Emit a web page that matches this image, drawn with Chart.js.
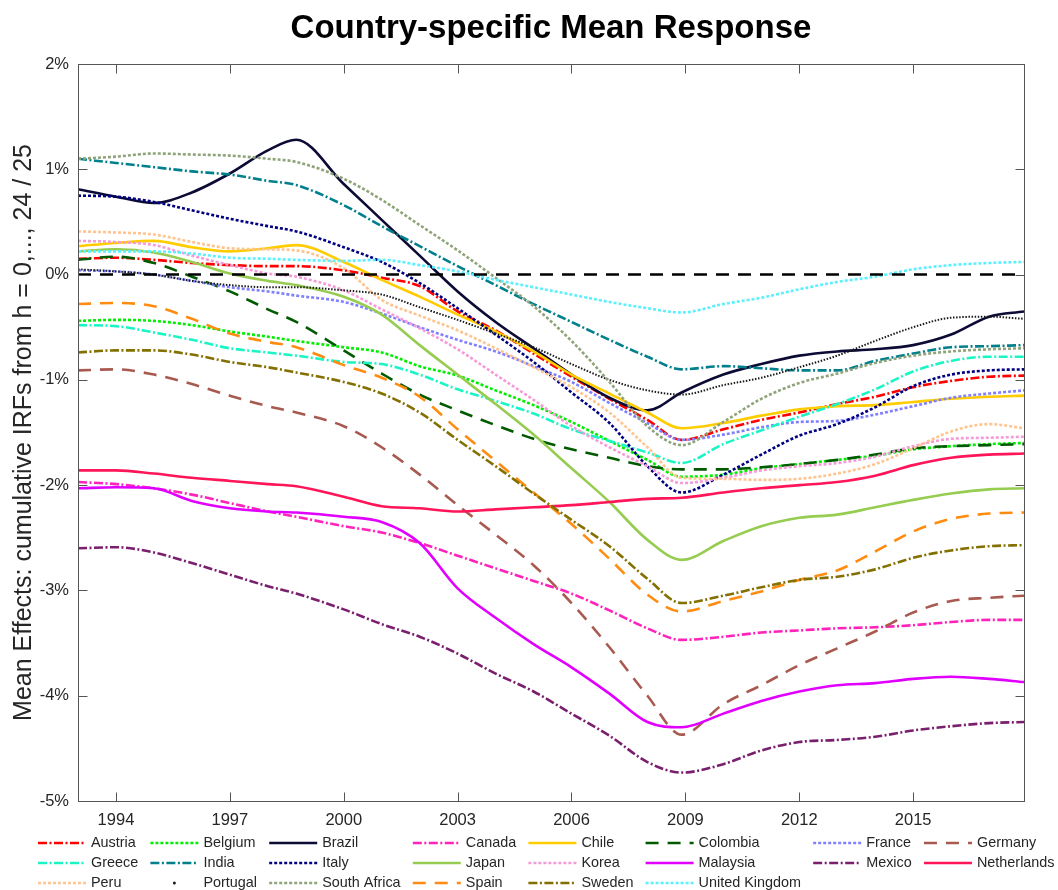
<!DOCTYPE html>
<html>
<head>
<meta charset="utf-8">
<title>Country-specific Mean Response</title>
<script src="https://cdn.jsdelivr.net/npm/chart.js@4.4.1/dist/chart.umd.min.js"></script>
<style>
	html, body { margin: 0; padding: 0; background: #fff; }
	#wrap { width: 1058px; height: 890px; position: relative; }
</style>
</head>
<body>
<div id="wrap"><canvas id="mycanvas"></canvas></div>
<script>
// sample dates (decimal years) shared by every country
var YEARS = [1993, 1994, 1995, 1996, 1997, 1998, 1998.75, 2000, 2001, 2002, 2003, 2004, 2005,
	2006, 2007, 2008, 2008.9, 2010, 2011, 2012, 2013, 2014, 2015, 2016, 2017, 2017.92];
var XTICKS = [1994, 1997, 2000, 2003, 2006, 2009, 2012, 2015];
var YTICKS = [-5, -4, -3, -2, -1, 0, 1, 2];

var COUNTRIES = ["Austria", "Belgium", "Brazil", "Canada", "Chile", "Colombia", "France", "Germany",
	"Greece", "India", "Italy", "Japan", "Korea", "Malaysia", "Mexico", "Netherlands",
	"Peru", "Portugal", "South Africa", "Spain", "Sweden", "United Kingdom"];

// mean cumulative response, in percent
var austria = [0.15, 0.16, 0.14, 0.11, 0.09, 0.08, 0.08, 0.04, -0.03, -0.11, -0.35, -0.53, -0.75, -0.97, -1.18, -1.38, -1.57, -1.47, -1.38, -1.31, -1.23, -1.16, -1.07, -1.01, -0.97, -0.96];
var belgium = [-0.44, -0.43, -0.44, -0.48, -0.54, -0.59, -0.63, -0.69, -0.74, -0.87, -0.96, -1.10, -1.24, -1.40, -1.58, -1.76, -1.92, -1.90, -1.84, -1.80, -1.76, -1.72, -1.66, -1.63, -1.61, -1.60];
var brazil = [0.81, 0.74, 0.68, 0.78, 0.96, 1.18, 1.28, 0.86, 0.52, 0.18, -0.16, -0.45, -0.70, -0.95, -1.17, -1.29, -1.12, -0.95, -0.85, -0.77, -0.73, -0.71, -0.67, -0.57, -0.40, -0.35];
var canada = [-1.97, -1.99, -2.03, -2.09, -2.17, -2.25, -2.30, -2.39, -2.45, -2.55, -2.67, -2.79, -2.91, -3.03, -3.19, -3.36, -3.47, -3.44, -3.40, -3.38, -3.36, -3.35, -3.33, -3.30, -3.28, -3.28];
var chile = [0.27, 0.30, 0.32, 0.26, 0.22, 0.25, 0.28, 0.12, -0.05, -0.21, -0.38, -0.54, -0.73, -0.95, -1.13, -1.31, -1.46, -1.41, -1.34, -1.28, -1.25, -1.24, -1.21, -1.18, -1.16, -1.15];
var colombia = [0.14, 0.17, 0.11, -0.02, -0.16, -0.33, -0.45, -0.72, -0.94, -1.14, -1.29, -1.43, -1.56, -1.66, -1.74, -1.82, -1.85, -1.85, -1.83, -1.80, -1.76, -1.71, -1.65, -1.63, -1.62, -1.61];
var france = [0.04, 0.03, 0.00, -0.06, -0.12, -0.16, -0.20, -0.26, -0.37, -0.50, -0.62, -0.73, -0.87, -1.02, -1.22, -1.41, -1.57, -1.52, -1.45, -1.40, -1.39, -1.33, -1.25, -1.17, -1.13, -1.10];
var germany = [-0.91, -0.90, -0.95, -1.04, -1.15, -1.25, -1.31, -1.44, -1.64, -1.90, -2.19, -2.47, -2.76, -3.12, -3.54, -4.00, -4.37, -4.08, -3.90, -3.71, -3.55, -3.39, -3.21, -3.10, -3.07, -3.05];
var greece = [-0.48, -0.49, -0.55, -0.62, -0.70, -0.74, -0.77, -0.83, -0.85, -0.95, -1.09, -1.20, -1.32, -1.47, -1.58, -1.69, -1.79, -1.61, -1.48, -1.35, -1.23, -1.09, -0.92, -0.82, -0.78, -0.78];
var india = [1.10, 1.06, 1.02, 0.98, 0.95, 0.89, 0.85, 0.66, 0.46, 0.27, 0.08, -0.10, -0.28, -0.45, -0.62, -0.78, -0.90, -0.87, -0.89, -0.91, -0.91, -0.82, -0.75, -0.69, -0.68, -0.67];
var italy = [0.75, 0.74, 0.69, 0.61, 0.53, 0.46, 0.41, 0.26, 0.12, -0.08, -0.32, -0.57, -0.83, -1.12, -1.41, -1.82, -2.07, -1.90, -1.71, -1.53, -1.42, -1.26, -1.06, -0.95, -0.91, -0.90];
var japan = [0.22, 0.24, 0.21, 0.12, 0.01, -0.06, -0.10, -0.21, -0.38, -0.67, -0.95, -1.23, -1.52, -1.84, -2.16, -2.52, -2.71, -2.53, -2.39, -2.31, -2.28, -2.21, -2.14, -2.08, -2.04, -2.03];
var korea = [0.32, 0.31, 0.28, 0.18, 0.09, 0.01, -0.02, -0.15, -0.33, -0.51, -0.71, -0.95, -1.19, -1.44, -1.64, -1.82, -1.98, -1.93, -1.86, -1.82, -1.79, -1.73, -1.63, -1.56, -1.55, -1.54];
var malaysia = [-2.03, -2.02, -2.03, -2.15, -2.22, -2.25, -2.26, -2.30, -2.35, -2.55, -2.98, -3.26, -3.51, -3.73, -3.98, -4.25, -4.30, -4.17, -4.05, -3.96, -3.90, -3.88, -3.84, -3.82, -3.84, -3.87];
var mexico = [-2.60, -2.59, -2.64, -2.74, -2.85, -2.96, -3.03, -3.18, -3.32, -3.44, -3.60, -3.79, -3.96, -4.17, -4.38, -4.63, -4.73, -4.65, -4.52, -4.44, -4.42, -4.39, -4.33, -4.29, -4.26, -4.25];
var netherlands = [-1.86, -1.86, -1.89, -1.93, -1.96, -1.99, -2.01, -2.11, -2.20, -2.22, -2.25, -2.23, -2.21, -2.19, -2.16, -2.13, -2.12, -2.07, -2.03, -2.00, -1.97, -1.91, -1.81, -1.74, -1.71, -1.70];
var peru = [0.41, 0.40, 0.38, 0.31, 0.25, 0.24, 0.23, 0.06, -0.24, -0.39, -0.53, -0.70, -0.88, -1.07, -1.31, -1.64, -1.93, -1.94, -1.95, -1.94, -1.89, -1.80, -1.65, -1.49, -1.42, -1.46];
var portugal = [0.05, 0.03, 0.00, -0.06, -0.10, -0.12, -0.12, -0.15, -0.19, -0.31, -0.43, -0.56, -0.69, -0.85, -1.00, -1.10, -1.14, -1.05, -0.98, -0.88, -0.77, -0.63, -0.50, -0.41, -0.40, -0.42];
var southAfrica = [1.10, 1.12, 1.15, 1.14, 1.13, 1.10, 1.07, 0.91, 0.71, 0.47, 0.23, -0.03, -0.30, -0.63, -1.02, -1.44, -1.62, -1.40, -1.18, -1.03, -0.94, -0.84, -0.77, -0.73, -0.71, -0.70];
var spain = [-0.28, -0.27, -0.30, -0.42, -0.56, -0.64, -0.69, -0.86, -0.98, -1.16, -1.47, -1.77, -2.07, -2.37, -2.70, -3.04, -3.20, -3.10, -3.01, -2.90, -2.81, -2.63, -2.44, -2.32, -2.27, -2.26];
var sweden = [-0.74, -0.72, -0.72, -0.76, -0.83, -0.88, -0.93, -1.02, -1.13, -1.31, -1.57, -1.82, -2.08, -2.33, -2.58, -2.89, -3.12, -3.05, -2.97, -2.90, -2.87, -2.80, -2.69, -2.62, -2.58, -2.57];
var uk = [0.22, 0.22, 0.22, 0.20, 0.16, 0.15, 0.14, 0.13, 0.14, 0.09, 0.03, -0.05, -0.12, -0.19, -0.26, -0.32, -0.36, -0.28, -0.22, -0.14, -0.07, -0.02, 0.05, 0.09, 0.11, 0.12];

var SERIES = [austria, belgium, brazil, canada, chile, colombia, france, germany,
	greece, india, italy, japan, korea, malaysia, mexico, netherlands,
	peru, portugal, southAfrica, spain, sweden, uk];

var COLORS = ["#ff0000", "#00ee00", "#0b0b35", "#ff22bb", "#ffcc00", "#005a00", "#8080ff", "#a85a50",
	"#1af5c5", "#00808c", "#000080", "#96cc50", "#f59bd8", "#e100ff", "#7a1e6e", "#ff1558",
	"#ffc48f", "#1a1a1a", "#8fa47a", "#ff8c10", "#847000", "#5cf0ff"];
var STYLES = ["dashdot", "dot", "solid", "dashdot", "solid", "dash", "dot", "dash",
	"dashdot", "dashdot", "dot", "solid", "dot", "solid", "dashdot", "solid",
	"dot", "point", "dot", "dash", "dashdot", "dot"];

var DASHES = {
	solid: [],
	dash: [13, 9],
	dashdot: [9, 2.5, 2, 2.5],
	dot: [3, 2],
	point: [1.5, 1.6]
};

var FONT = '"Liberation Sans", Arial, Helvetica, sans-serif';
var INK = "#262626";

function toPoints(vals) {
	var pts = [];
	for (var i = 0; i < YEARS.length; i++) {
		pts.push({ x: YEARS[i], y: vals[i] });
	}
	return pts;
}

var datasets = [];
for (var i = 0; i < COUNTRIES.length; i++) {
	datasets.push({
		label: COUNTRIES[i],
		data: toPoints(SERIES[i]),
		borderColor: COLORS[i],
		backgroundColor: COLORS[i],
		borderWidth: STYLES[i] == "point" ? 2 : 2.6,
		borderDash: DASHES[STYLES[i]],
		lineStyle: STYLES[i],
		pointRadius: 0,
		cubicInterpolationMode: "monotone",
		fill: false,
		order: COUNTRIES.length - i + 1
	});
}
// zero reference line
datasets.push({
	label: "zero",
	data: [{ x: YEARS[0], y: 0 }, { x: YEARS[YEARS.length - 1], y: 0 }],
	borderColor: "#000000",
	borderWidth: 2.6,
	borderDash: DASHES.dash,
	pointRadius: 0,
	fill: false,
	order: 0
});

// box around the axes with inward ticks on all four sides
var axesBox = {
	id: "axesBox",
	afterDatasetsDraw: function(chart) {
		var ctx = chart.ctx;
		var a = chart.chartArea;
		var xs = chart.scales.x;
		var ys = chart.scales.y;
		var L = Math.round(a.left) + 0.5, R = Math.round(a.right) + 0.5;
		var T = Math.round(a.top) + 0.5, B = Math.round(a.bottom) + 0.5;
		ctx.save();
		ctx.strokeStyle = "#555555";
		ctx.lineWidth = 1;
		ctx.setLineDash([]);
		ctx.strokeRect(L, T, R - L, B - T);
		ctx.beginPath();
		xs.ticks.forEach(function(t) {
			var px = Math.round(xs.getPixelForValue(t.value)) + 0.5;
			ctx.moveTo(px, B); ctx.lineTo(px, B - 9);
			ctx.moveTo(px, T); ctx.lineTo(px, T + 9);
		});
		ys.ticks.forEach(function(t) {
			var py = Math.round(ys.getPixelForValue(t.value)) + 0.5;
			ctx.moveTo(L, py); ctx.lineTo(L + 9, py);
			ctx.moveTo(R, py); ctx.lineTo(R - 9, py);
		});
		ctx.stroke();
		ctx.restore();
	}
};

// legend laid out in 8 columns under the axes
var gridLegend = {
	id: "gridLegend",
	afterDraw: function(chart) {
		var ctx = chart.ctx;
		var a = chart.chartArea;
		var cols = 8;
		var n = COUNTRIES.length;
		ctx.save();
		ctx.font = "14.4px " + FONT;
		ctx.textBaseline = "middle";
		ctx.fillStyle = INK;
		var x = 38;
		for (var c = 0; c < cols; c++) {
			var maxW = 0;
			for (var r = 0; r * cols + c < n; r++) {
				maxW = Math.max(maxW, ctx.measureText(COUNTRIES[r * cols + c]).width);
			}
			for (var r = 0; r * cols + c < n; r++) {
				var k = r * cols + c;
				var ds = chart.data.datasets[k];
				var y = Math.round(a.bottom) + 42 + r * 20;
				ctx.strokeStyle = ds.borderColor;
				ctx.fillStyle = ds.borderColor;
				if (ds.lineStyle == "point") {
					ctx.beginPath();
					ctx.arc(x + 24, y, 1.5, 0, Math.PI * 2);
					ctx.fill();
				} else {
					ctx.lineWidth = ds.borderWidth;
					ctx.setLineDash(ds.borderDash);
					ctx.beginPath();
					ctx.moveTo(x, y);
					ctx.lineTo(x + 48, y);
					ctx.stroke();
				}
				ctx.setLineDash([]);
				ctx.fillStyle = INK;
				ctx.fillText(COUNTRIES[k], x + 53, y);
			}
			x += 53 + maxW + 12.2;
		}
		ctx.restore();
	}
};

Chart.defaults.font.family = FONT;

var ctx = document.getElementById("mycanvas");
var LineGraph = new Chart(ctx, {
	type: "line",
	data: { datasets: datasets },
	plugins: [axesBox, gridLegend],
	options: {
		responsive: true,
		maintainAspectRatio: false,
		animation: false,
		layout: { padding: { left: 0, right: 34, top: 0, bottom: 58 } },
		plugins: {
			legend: { display: false },
			tooltip: { enabled: false },
			title: {
				display: true,
				text: "Country-specific Mean Response",
				fullSize: false,
				color: "#000000",
				font: { size: 33, weight: "bold" },
				padding: { top: 9, bottom: 15.4 }
			}
		},
		scales: {
			x: {
				type: "linear",
				min: YEARS[0],
				max: YEARS[YEARS.length - 1],
				afterBuildTicks: function(scale) {
					scale.ticks = XTICKS.map(function(v) { return { value: v }; });
				},
				afterFit: function(scale) { scale.height = 31; },
				grid: { display: false, drawTicks: false },
				border: { display: false },
				ticks: {
					color: INK,
					font: { size: 16.5 },
					padding: 10,
					maxRotation: 0,
					callback: function(v) { return String(v); }
				}
			},
			y: {
				type: "linear",
				min: -5,
				max: 2,
				afterBuildTicks: function(scale) {
					scale.ticks = YTICKS.map(function(v) { return { value: v }; });
				},
				afterFit: function(scale) { scale.width = 78; },
				grid: { display: false, drawTicks: false },
				border: { display: false },
				ticks: {
					color: INK,
					font: { size: 16.5 },
					padding: 9,
					callback: function(v) { return v + "%"; }
				},
				title: {
					display: true,
					text: "Mean Effects: cumulative IRFs from h = 0,..., 24 / 25",
					color: INK,
					font: { size: 25 },
					padding: { top: 9, bottom: 0 }
				}
			}
		}
	}
});
</script>
</body>
</html>
